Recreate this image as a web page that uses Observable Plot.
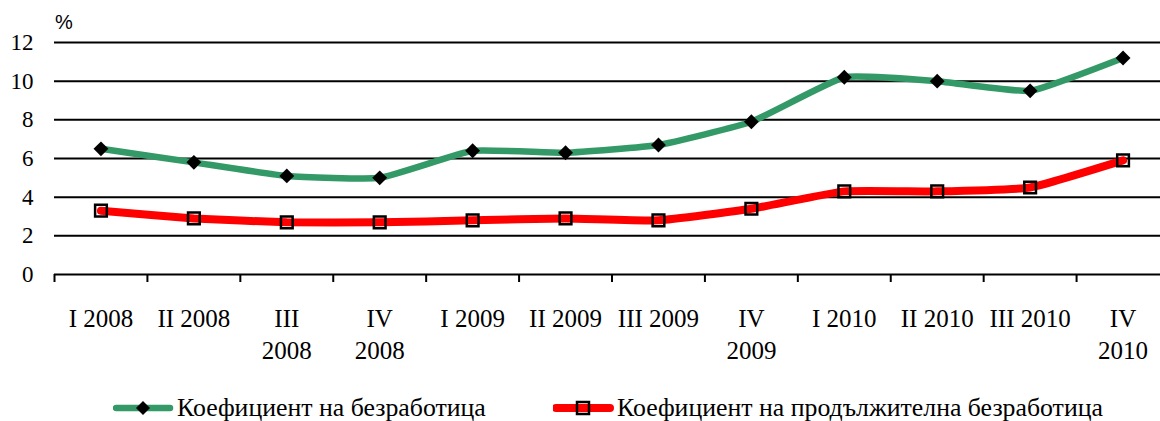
<!DOCTYPE html>
<html>
<head>
<meta charset="utf-8">
<script src="https://cdn.jsdelivr.net/npm/d3@7"></script>
<script src="https://cdn.jsdelivr.net/npm/@observablehq/plot@0.6"></script>
<style>
  html, body { margin: 0; padding: 0; background: #fff; }
  #wrap { position: relative; width: 1160px; height: 421px; overflow: hidden; font-family: "Liberation Serif", "Times New Roman", serif; }
  #unit { position: absolute; left: 55px; top: 11px; font-family: "Liberation Sans", Arial, sans-serif; font-size: 20px; color: #000; }
  #legend { position: absolute; left: 0; top: 392px; height: 32px; width: 1160px; }
  .item { position: absolute; top: 0; display: flex; align-items: center; height: 32px; font-size: 25.8px; color: #000; white-space: nowrap; }
  .item svg { display: block; margin-right: 2px; }
</style>
</head>
<body>
<div id="wrap">
  <div id="chart"></div>
  <div id="unit">%</div>
  <div id="legend"></div>
</div>
<script>
// ---- data ----
const quarters = ["I 2008", "II 2008", "III 2008", "IV 2008", "I 2009", "II 2009", "III 2009", "IV 2009", "I 2010", "II 2010", "III 2010", "IV 2010"];
const tickLabels = ["I 2008", "II 2008", "III\n2008", "IV\n2008", "I 2009", "II 2009", "III 2009", "IV\n2009", "I 2010", "II 2010", "III 2010", "IV\n2010"];
const unemploymentRate = [6.5, 5.8, 5.1, 5.0, 6.4, 6.3, 6.7, 7.9, 10.2, 10.0, 9.5, 11.2];
const longTermRate = [3.3, 2.9, 2.7, 2.7, 2.8, 2.9, 2.8, 3.4, 4.3, 4.3, 4.5, 5.9];
const seriesNames = ["Коефициент на безработица", "Коефициент на продължителна безработица"];
const yTicks = [0, 2, 4, 6, 8, 10, 12];

// ---- layout ----
const green = "#339966";
const red = "#ff0000";
const W = 1160, H = 385;
const xRange = [54, 1169];
const step = (xRange[1] - xRange[0]) / quarters.length;
const labelOf = new Map(quarters.map((q, i) => [q, tickLabels[i]]));

const greenData = quarters.map((q, i) => ({q, v: unemploymentRate[i]}));
const redData = quarters.map((q, i) => ({q, v: longTermRate[i]}));

const plot = Plot.plot({
  width: W,
  height: H,
  marginLeft: 54,
  marginRight: 0,
  marginTop: 42,
  marginBottom: H - 274,
  style: { fontFamily: "Liberation Serif, Times New Roman, serif", fontSize: "23px", color: "#000", background: "#fff" },
  x: { type: "point", domain: quarters, range: xRange, padding: 0.5, round: false },
  y: { domain: [0, 12], ticks: yTicks, round: false },
  marks: [
    Plot.ruleY(yTicks, { stroke: "#000", strokeWidth: 2 }),
    Plot.axisY({ ticks: yTicks, tickSize: 0, tickPadding: 21, fontSize: 23, label: null }),
    Plot.axisX({ ticks: quarters, tickSize: 8, strokeWidth: 2, stroke: "#000", strokeOpacity: 1, dx: -step / 2, text: null, label: null }),
    Plot.axisX({ ticks: quarters, tickSize: 0, tickPadding: 29, fontSize: 25, lineHeight: 1.3, tickFormat: d => labelOf.get(d), label: null }),
    Plot.line(greenData, { x: "q", y: "v", stroke: green, strokeWidth: 6.5, curve: "cardinal", tension: 0.6 }),
    Plot.line(redData, { x: "q", y: "v", stroke: red, strokeWidth: 8, curve: "cardinal", tension: 0.6 }),
    Plot.dot(greenData, { x: "q", y: "v", symbol: "diamond2", r: 6.7, fill: "#000", stroke: "none" }),
    Plot.dot(redData, { x: "q", y: "v", symbol: "square", r: 6.6, fill: "none", stroke: "#000", strokeWidth: 2.5 })
  ]
});
document.getElementById("chart").appendChild(plot);

// ---- legend ----
const legend = document.getElementById("legend");
const lefts = [113, 553];
const colors = [green, red];
seriesNames.forEach((name, i) => {
  const item = document.createElement("div");
  item.className = "item";
  item.style.left = lefts[i] + "px";
  const marker = i === 0
    ? `<path d="M30,9 L37,16 L30,23 L23,16 Z" fill="#000"/>`
    : `<rect x="24" y="10" width="12" height="12" fill="none" stroke="#000" stroke-width="2.5"/>`;
  item.innerHTML = `<svg width="62" height="32"><line x1="3" y1="16" x2="57" y2="16" stroke="${colors[i]}" stroke-width="${i === 0 ? 6.5 : 8}" stroke-linecap="round"/>${marker}</svg><span>${name}</span>`;
  legend.appendChild(item);
});
</script>
</body>
</html>
